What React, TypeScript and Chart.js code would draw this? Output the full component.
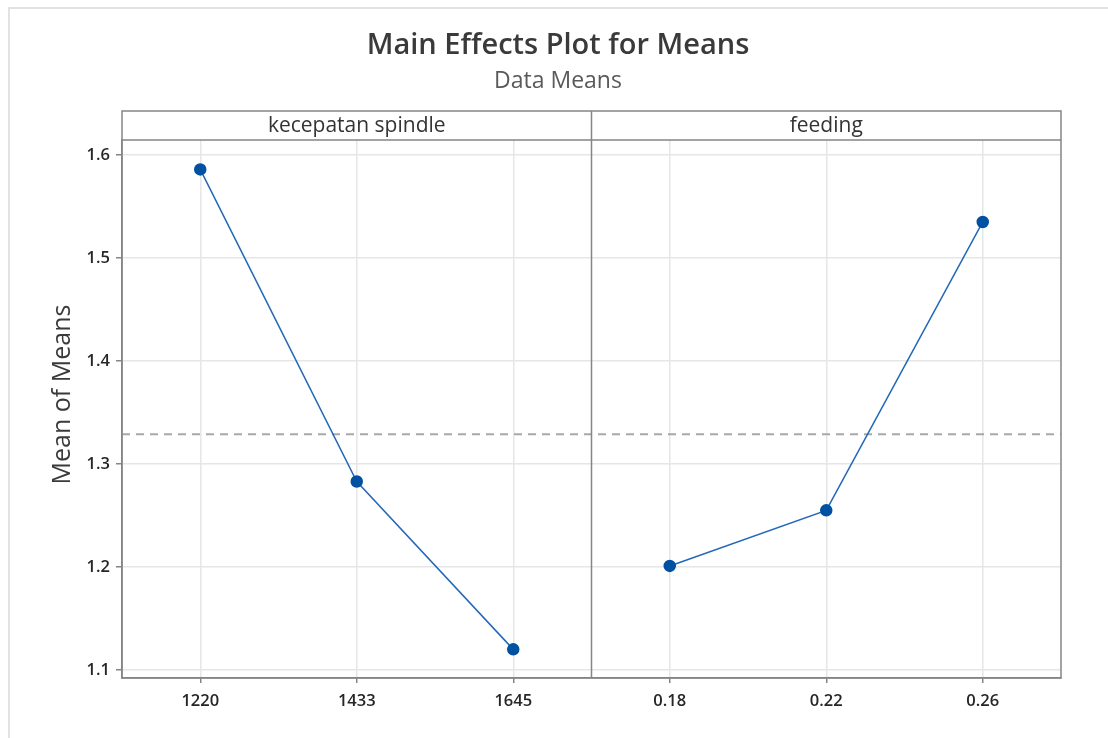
import React, { useEffect, useRef } from 'react';
import { Chart, registerables } from 'chart.js';

Chart.register(...registerables);

const titleText = 'Main Effects Plot for Means';
const subtitleText = 'Data Means';
const yAxisTitle = 'Mean of Means';
const panelNames = ['kecepatan spindle', 'feeding'];
const spindleLevels = ['1220', '1433', '1645'];
const spindleMeans = [1.586, 1.283, 1.12];
const feedingLevels = ['0.18', '0.22', '0.26'];
const feedingMeans = [1.201, 1.255, 1.535];
const grandMean = 1.329;
const yTicks = [1.1, 1.2, 1.3, 1.4, 1.5, 1.6];

const FONT = '"Open Sans", "Noto Sans", sans-serif';
const HEADER_H = 29;
const FRAME = '#858585';

const allLevels = [...spindleLevels, ...feedingLevels];

const panelPlugin = {
  id: 'panelPlugin',
  afterDraw(chart: any) {
    const { ctx, chartArea } = chart;
    const { left, right, top, bottom } = chartArea;
    const xs = chart.scales.x;
    const divX = xs.getPixelForValue(spindleLevels.length - 0.5);
    ctx.save();
    ctx.strokeStyle = FRAME;
    ctx.lineWidth = 1.5;
    ctx.strokeRect(left, top - HEADER_H, right - left, bottom - top + HEADER_H);
    ctx.beginPath();
    ctx.moveTo(left, top);
    ctx.lineTo(right, top);
    ctx.moveTo(divX, top - HEADER_H);
    ctx.lineTo(divX, bottom);
    ctx.stroke();
    ctx.fillStyle = '#333333';
    ctx.font = `21px ${FONT}`;
    ctx.textAlign = 'center';
    ctx.textBaseline = 'middle';
    ctx.fillText(panelNames[0], (left + divX) / 2, top - HEADER_H / 2 + 1);
    ctx.fillText(panelNames[1], (divX + right) / 2, top - HEADER_H / 2 + 1);
    // y axis title, centred on the whole panel frame (header included)
    ctx.translate(63, (top - HEADER_H + bottom) / 2);
    ctx.rotate(-Math.PI / 2);
    ctx.fillStyle = '#3a3a3a';
    ctx.font = `25px ${FONT}`;
    ctx.fillText(yAxisTitle, 0, 0);
    ctx.restore();
  },
};

export default function App() {
  const ref = useRef<HTMLCanvasElement | null>(null);
  useEffect(() => {
    if (!ref.current) return;
    const n = spindleLevels.length;
    const chart = new Chart(ref.current, {
      type: 'line',
      data: {
        datasets: [
          {
            label: 'spindle',
            data: spindleMeans.map((y, i) => ({ x: i, y })),
            borderColor: '#2368b8',
            backgroundColor: '#0051a2',
            pointBackgroundColor: '#0051a2',
            pointBorderColor: '#0051a2',
            borderWidth: 1.5,
            pointRadius: 5.5,
            order: 1,
          },
          {
            label: 'feeding',
            data: feedingMeans.map((y, i) => ({ x: i + n, y })),
            borderColor: '#2368b8',
            backgroundColor: '#0051a2',
            pointBackgroundColor: '#0051a2',
            pointBorderColor: '#0051a2',
            borderWidth: 1.5,
            pointRadius: 5.5,
            order: 1,
          },
          {
            label: 'mean',
            data: [
              { x: -0.5, y: grandMean },
              { x: allLevels.length - 0.5, y: grandMean },
            ],
            borderColor: '#a8a8a8',
            borderWidth: 2,
            borderDash: [8, 6],
            pointRadius: 0,
            order: 2,
          },
        ],
      },
      options: {
        animation: false,
        responsive: false,
        maintainAspectRatio: false,
        layout: { padding: { left: 8, right: 0, top: 0, bottom: 0 } },
        plugins: {
          legend: { display: false },
          tooltip: { enabled: false },
          title: {
            display: true,
            text: titleText,
            color: '#3a3a3a',
            font: { family: FONT, size: 29, weight: '600' },
            padding: { top: 28.6, bottom: 0 },
          },
          subtitle: {
            display: true,
            text: subtitleText,
            color: '#5a5a5a',
            font: { family: FONT, size: 23, weight: 'normal' },
            padding: { top: 3.8, bottom: 45.2 },
          },
        },
        scales: {
          x: {
            type: 'linear',
            min: -0.5,
            max: allLevels.length - 0.5,
            afterBuildTicks: (s: any) => {
              s.ticks = allLevels.map((_, i) => ({ value: i }));
            },
            afterFit: (s: any) => {
              s.height = 60;
            },
            ticks: {
              callback: (v: any) => allLevels[Math.round(Number(v))] ?? '',
              color: '#262626',
              font: { family: FONT, size: 16.5, weight: '600' },
              padding: 8,
              maxRotation: 0,
              autoSkip: false,
            },
            grid: {
              color: '#e6e6e6',
              lineWidth: 1.5,
              tickLength: 5,
              tickColor: FRAME,
            },
            border: { display: true, color: FRAME, width: 1.5 },
          },
          y: {
            type: 'linear',
            min: 1.0922,
            max: 1.6146,
            afterBuildTicks: (s: any) => {
              s.ticks = yTicks.map((v) => ({ value: v }));
            },
            afterFit: (s: any) => {
              s.width = 114;
            },
            ticks: {
              callback: (v: any) => Number(v).toFixed(1),
              color: '#262626',
              font: { family: FONT, size: 16.5, weight: '600' },
              padding: 6,
            },
            grid: {
              color: '#e6e6e6',
              lineWidth: 1.5,
              tickLength: 6,
              tickColor: FRAME,
            },
            border: { display: true, color: FRAME, width: 1.5 },
          },
          y2: {
            type: 'linear',
            position: 'right',
            min: 0,
            max: 1,
            display: true,
            afterFit: (s: any) => {
              s.width = 47;
            },
            ticks: { display: false },
            grid: { display: false, drawTicks: false },
            border: { display: false },
          },
        },
      },
      plugins: [panelPlugin],
    });
    return () => chart.destroy();
  }, []);

  return (
    <div
      style={{
        position: 'fixed',
        left: 0,
        top: 0,
        width: 1108,
        height: 738,
        background: '#ffffff',
        overflow: 'hidden',
      }}
    >
      <div
        style={{
          position: 'absolute',
          left: 8,
          top: 7,
          width: 1200,
          height: 900,
          border: '2px solid #e2e2e2',
        }}
      />
      <canvas
        ref={ref}
        width={1108}
        height={738}
        style={{ position: 'absolute', left: 0, top: 0, width: 1108, height: 738 }}
      />
    </div>
  );
}
